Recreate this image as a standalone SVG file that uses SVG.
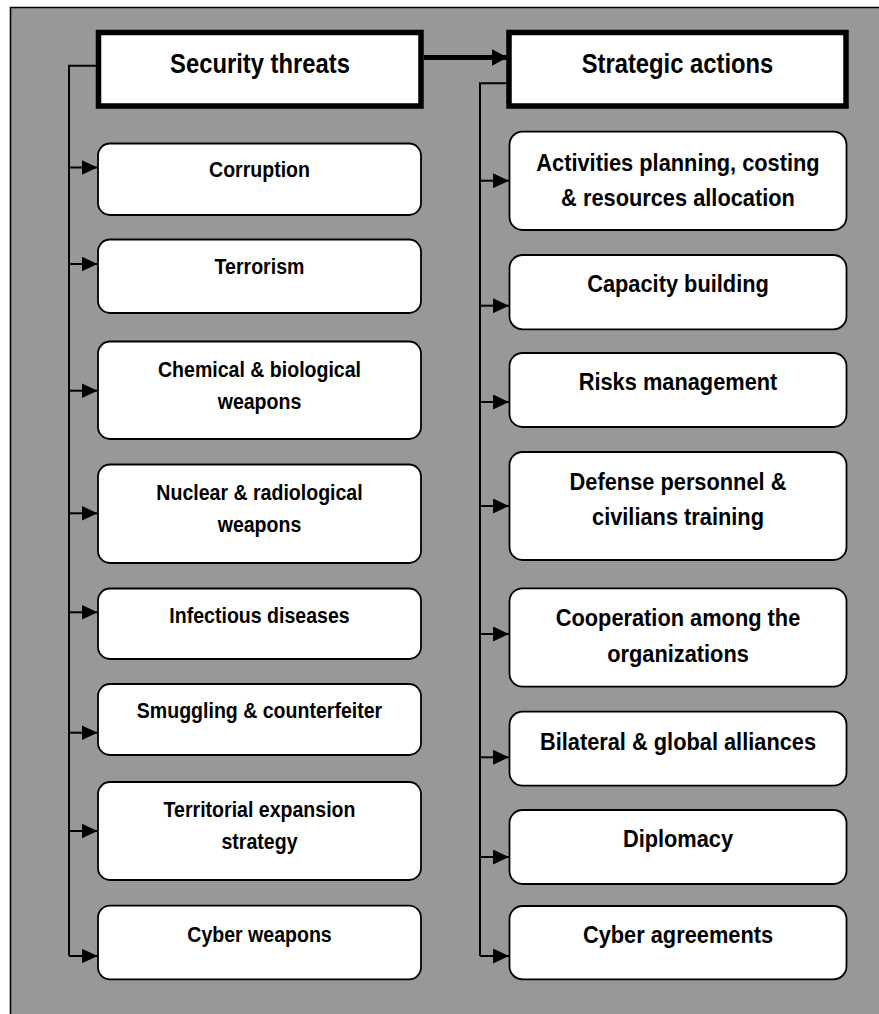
<svg xmlns="http://www.w3.org/2000/svg" width="879" height="1014" viewBox="0 0 879 1014">
<defs>
<style>
.bg{fill:#989898;}
.frame{stroke:#000;stroke-width:1.6;fill:none;}
.hdr{fill:#fff;stroke:#000;stroke-width:5.5;}
.box{fill:#fff;stroke:#000;stroke-width:1.8;}
.conn{stroke:#000;stroke-width:2;fill:none;}
.thick{stroke:#000;stroke-width:5;fill:none;}
text{font-family:"Liberation Sans",Arial,sans-serif;font-weight:bold;fill:#000;text-anchor:middle;}
.th{font-size:27px;}
.tl{font-size:22px;}
.tr{font-size:23.5px;}
</style>
<marker id="ah" viewBox="0 0 16 15" refX="16" refY="7.5" markerWidth="16" markerHeight="15" markerUnits="userSpaceOnUse" orient="auto">
<path d="M0,0 L16,7.5 L0,15 z" fill="#000"/>
</marker>
<marker id="ahb" viewBox="0 0 16 17" refX="16" refY="8.5" markerWidth="16" markerHeight="17" markerUnits="userSpaceOnUse" orient="auto">
<path d="M0,0 L16,8.5 L0,17 z" fill="#000"/>
</marker>
</defs>
<rect class="bg" x="10" y="7" width="869" height="1007"/>
<path class="frame" d="M10.5,1014 V7.5 H879"/>

<g id="connectors">
<path class="thick" d="M424,57.5 H507.5" marker-end="url(#ahb)"/>
<path class="conn" d="M96,65.7 H69 V956"/>
<path class="conn" d="M69,167.5 H97.5" marker-end="url(#ah)"/>
<path class="conn" d="M69,264 H97.5" marker-end="url(#ah)"/>
<path class="conn" d="M69,390.7 H97.5" marker-end="url(#ah)"/>
<path class="conn" d="M69,513.3 H97.5" marker-end="url(#ah)"/>
<path class="conn" d="M69,612.3 H97.5" marker-end="url(#ah)"/>
<path class="conn" d="M69,732.7 H97.5" marker-end="url(#ah)"/>
<path class="conn" d="M69,831 H97.5" marker-end="url(#ah)"/>
<path class="conn" d="M69,956 H97.5" marker-end="url(#ah)"/>
<path class="conn" d="M507,83.3 H480 V956"/>
<path class="conn" d="M480,180.7 H509" marker-end="url(#ah)"/>
<path class="conn" d="M480,305.7 H509" marker-end="url(#ah)"/>
<path class="conn" d="M480,402 H509" marker-end="url(#ah)"/>
<path class="conn" d="M480,506 H509" marker-end="url(#ah)"/>
<path class="conn" d="M480,634 H509" marker-end="url(#ah)"/>
<path class="conn" d="M480,757.3 H509" marker-end="url(#ah)"/>
<path class="conn" d="M480,857 H509" marker-end="url(#ah)"/>
<path class="conn" d="M480,956 H509" marker-end="url(#ah)"/>
</g>

<g id="security-threats">
<rect class="hdr" x="98.5" y="32.5" width="322.5" height="73.5"/>
<text class="th" transform="translate(260,72.7) scale(0.881,1)">Security threats</text>
</g>
<g id="strategic-actions">
<rect class="hdr" x="509" y="32.5" width="337" height="73.5"/>
<text class="th" transform="translate(677.5,72.7) scale(0.881,1)">Strategic actions</text>
</g>

<g id="corruption">
<rect class="box" x="98" y="143.5" width="323" height="71.5" rx="12"/>
<text class="tl" transform="translate(259.5,177.3) scale(0.889,1)">Corruption</text>
</g>
<g id="terrorism">
<rect class="box" x="98" y="239.5" width="323" height="73.5" rx="12"/>
<text class="tl" transform="translate(259.5,274) scale(0.889,1)">Terrorism</text>
</g>
<g id="chemical">
<rect class="box" x="98" y="341.5" width="323" height="97.5" rx="12"/>
<text class="tl" transform="translate(259.5,376.7) scale(0.889,1)">Chemical &amp; biological</text>
<text class="tl" transform="translate(259.5,409.3) scale(0.889,1)">weapons</text>
</g>
<g id="nuclear">
<rect class="box" x="98" y="464.5" width="323" height="98.5" rx="12"/>
<text class="tl" transform="translate(259.5,500) scale(0.889,1)">Nuclear &amp; radiological</text>
<text class="tl" transform="translate(259.5,532) scale(0.889,1)">weapons</text>
</g>
<g id="infectious">
<rect class="box" x="98" y="588.5" width="323" height="70.5" rx="12"/>
<text class="tl" transform="translate(259.5,623.3) scale(0.889,1)">Infectious diseases</text>
</g>
<g id="smuggling">
<rect class="box" x="98" y="684" width="323" height="71" rx="12"/>
<text class="tl" transform="translate(259.5,718.3) scale(0.889,1)">Smuggling &amp; counterfeiter</text>
</g>
<g id="territorial">
<rect class="box" x="98" y="782" width="323" height="98" rx="12"/>
<text class="tl" transform="translate(259.5,817) scale(0.889,1)">Territorial expansion</text>
<text class="tl" transform="translate(259.5,849) scale(0.889,1)">strategy</text>
</g>
<g id="cyber-weapons">
<rect class="box" x="98" y="905.7" width="323" height="73.6" rx="12"/>
<text class="tl" transform="translate(259.5,941.7) scale(0.889,1)">Cyber weapons</text>
</g>

<g id="activities">
<rect class="box" x="509.5" y="131.7" width="337" height="98.3" rx="13"/>
<text class="tr" transform="translate(678,170.7) scale(0.928,1)">Activities planning, costing</text>
<text class="tr" transform="translate(678,206) scale(0.928,1)">&amp; resources allocation</text>
</g>
<g id="capacity">
<rect class="box" x="509.5" y="255" width="337" height="74.3" rx="13"/>
<text class="tr" transform="translate(678,291.7) scale(0.928,1)">Capacity building</text>
</g>
<g id="risks">
<rect class="box" x="509.5" y="353" width="337" height="74" rx="13"/>
<text class="tr" transform="translate(678,390) scale(0.928,1)">Risks management</text>
</g>
<g id="defense">
<rect class="box" x="509.5" y="452" width="337" height="108" rx="13"/>
<text class="tr" transform="translate(678,490) scale(0.928,1)">Defense personnel &amp;</text>
<text class="tr" transform="translate(678,525) scale(0.928,1)">civilians training</text>
</g>
<g id="cooperation">
<rect class="box" x="509.5" y="588.3" width="337" height="98.4" rx="13"/>
<text class="tr" transform="translate(678,626) scale(0.928,1)">Cooperation among the</text>
<text class="tr" transform="translate(678,661.7) scale(0.928,1)">organizations</text>
</g>
<g id="bilateral">
<rect class="box" x="509.5" y="711.7" width="337" height="74" rx="13"/>
<text class="tr" transform="translate(678,750) scale(0.928,1)">Bilateral &amp; global alliances</text>
</g>
<g id="diplomacy">
<rect class="box" x="509.5" y="810" width="337" height="74" rx="13"/>
<text class="tr" transform="translate(678,847) scale(0.928,1)">Diplomacy</text>
</g>
<g id="cyber-agreements">
<rect class="box" x="509.5" y="906" width="337" height="73.3" rx="13"/>
<text class="tr" transform="translate(678,943.3) scale(0.928,1)">Cyber agreements</text>
</g>
</svg>
